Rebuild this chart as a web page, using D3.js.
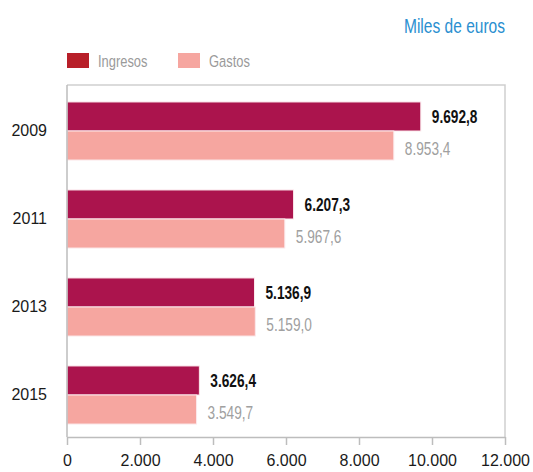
<!DOCTYPE html>
<html>
<head>
<meta charset="utf-8">
<script src="https://cdn.jsdelivr.net/npm/d3@7"></script>
<style>
  html, body { margin: 0; padding: 0; background: #fff; }
  svg { display: block; }
  svg text { font-family: "Liberation Sans", Arial, Helvetica, sans-serif; }
</style>
</head>
<body>
<svg id="chart" width="533" height="472"></svg>
<script>
// Years shown on the vertical axis
const years = ["2009", "2011", "2013", "2015"];
// Thousands of euros
const ingresos = [9692.8, 6207.3, 5136.9, 3626.4];
const gastos = [8953.4, 5967.6, 5159.0, 3549.7];
// Value labels as printed next to the bars
const ingresosLabels = ["9.692,8", "6.207,3", "5.136,9", "3.626,4"];
const gastosLabels = ["8.953,4", "5.967,6", "5.159,0", "3.549,7"];
const xTicks = [0, 2000, 4000, 6000, 8000, 10000, 12000];
const seriesNames = ["Ingresos", "Gastos"];

const colIngresos = "#AB144D";
const colGastos = "#F6A6A0";
const colLegendIngresos = "#B81F29";

const svg = d3.select("#chart");
const m = { left: 67, right: 505, top: 85, bottom: 437 };

const x = d3.scaleLinear().domain([0, 12000]).range([m.left, m.right]);
const y = d3.scaleBand().domain(years).range([m.top + 2, m.bottom + 2])
  .paddingInner(0.34).paddingOuter(0.17);
const sub = d3.scaleBand().domain(seriesNames).range([0, y.bandwidth()]).padding(0);

// Condensed look: place text and squeeze it horizontally
function narrowText(sel, tx, ty, k) {
  return sel.attr("x", 0).attr("y", 0)
    .attr("transform", (d, i) => `translate(${tx(d, i)},${ty(d, i)}) scale(${k},1)`);
}

// Frame: top and right border lines
svg.append("path")
  .attr("d", `M${m.left},${m.top}H${m.right}V${m.bottom}`)
  .attr("fill", "none").attr("stroke", "#cfcfcf").attr("stroke-width", 1.5);

// Title
svg.append("text")
  .call(narrowText, () => m.right, () => 33, 0.74)
  .attr("text-anchor", "end")
  .style("font-size", "21px")
  .attr("fill", "#2A8FD0")
  .text("Miles de euros");

// Legend
const legend = [
  { name: "Ingresos", color: colLegendIngresos, x: 67 },
  { name: "Gastos", color: colGastos, x: 178 }
];
const lg = svg.append("g").selectAll("g").data(legend).join("g")
  .attr("transform", d => `translate(${d.x},53)`);
lg.append("rect").attr("width", 22).attr("height", 15).attr("fill", d => d.color);
lg.append("text")
  .call(narrowText, () => 31, () => 13.5, 0.76)
  .style("font-size", "17px").attr("fill", "#9a9a9a")
  .text(d => d.name);

// Bars
const rows = years.map((yr, i) => ({
  year: yr,
  values: [
    { s: "Ingresos", v: ingresos[i], label: ingresosLabels[i] },
    { s: "Gastos", v: gastos[i], label: gastosLabels[i] }
  ]
}));

const grp = svg.append("g").selectAll("g").data(rows).join("g")
  .attr("transform", d => `translate(0,${y(d.year)})`);

grp.selectAll("rect").data(d => d.values).join("rect")
  .attr("x", x(0))
  .attr("y", d => sub(d.s))
  .attr("width", d => x(d.v) - x(0))
  .attr("height", sub.bandwidth())
  .attr("fill", d => d.s === "Ingresos" ? colIngresos : colGastos)
  .attr("stroke", "#fbe9ec").attr("stroke-width", 1);

grp.selectAll("text").data(d => d.values).join("text")
  .call(narrowText,
    d => x(d.v) + 11,
    d => sub(d.s) + sub.bandwidth() / 2 + (d.s === "Ingresos" ? 1 : 4),
    0.72)
  .attr("dominant-baseline", "middle")
  .style("font-size", "19px")
  .attr("font-weight", d => d.s === "Ingresos" ? "bold" : "normal")
  .attr("fill", d => d.s === "Ingresos" ? "#111" : "#a0a0a0")
  .text(d => d.label);

// Y axis (years)
const yAxis = svg.append("g")
  .attr("transform", `translate(${m.left},0)`)
  .call(d3.axisLeft(y).tickSize(0).tickPadding(20));
yAxis.select(".domain").attr("stroke", "#bdbdbd").attr("stroke-width", 1.5)
  .attr("d", `M0,${m.top}V${m.bottom}`);
yAxis.selectAll("text")
  .attr("font-family", null).style("font-size", "16px").attr("fill", "#1a1a1a");

// X axis
const fmt = v => d3.format(",")(v).replace(/,/g, ".");
const xAxis = svg.append("g")
  .attr("transform", `translate(0,${m.bottom})`)
  .call(d3.axisBottom(x).tickValues(xTicks).tickFormat(fmt).tickSize(8).tickSizeOuter(0).tickPadding(10));
xAxis.select(".domain").attr("stroke", "#bdbdbd").attr("stroke-width", 1.5);
xAxis.selectAll(".tick line").attr("stroke", "#bdbdbd").attr("stroke-width", 1.5);
xAxis.selectAll("text")
  .attr("font-family", null).style("font-size", "16px").attr("fill", "#1a1a1a");
</script>
</body>
</html>
